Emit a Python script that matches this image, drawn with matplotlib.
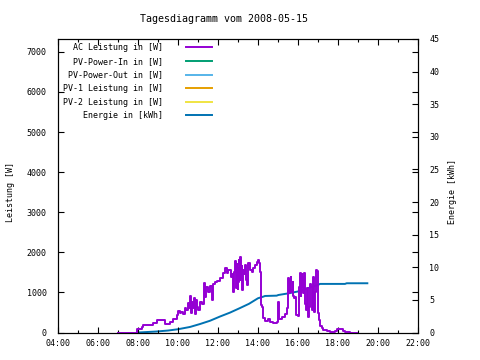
import pandas as pd
import matplotlib
matplotlib.use("Agg")
import matplotlib.pyplot as plt
from matplotlib.ticker import MultipleLocator, FuncFormatter

# AC power readings (time, watt)
acTimes = ["07:00", "07:46", "07:56", "08:11", "08:16", "08:36", "08:46", "08:56", "09:09", "09:21",
           "09:36", "09:46", "09:56", "10:01", "10:05", "10:10", "10:15", "10:20", "10:25", "10:31",
           "10:33", "10:36", "10:39", "10:42", "10:45", "10:48", "10:51", "10:54", "10:57", "11:00",
           "11:06", "11:12", "11:18", "11:21", "11:25", "11:30", "11:36", "11:42", "11:45", "11:51",
           "11:56", "12:06", "12:16", "12:21", "12:26", "12:31", "12:38", "12:42", "12:46", "12:48",
           "12:51", "12:53", "12:54", "12:56", "12:57", "12:59", "13:00", "13:02", "13:03", "13:05",
           "13:06", "13:08", "13:09", "13:11", "13:12", "13:15", "13:18", "13:21", "13:24", "13:26",
           "13:31", "13:36", "13:41", "13:46", "13:51", "13:56", "14:00", "14:04", "14:06",
           "14:08", "14:11", "14:14", "14:16", "14:21", "14:31", "14:36", "14:46", "14:56", "15:01",
           "15:04", "15:11", "15:21", "15:26", "15:31", "15:33", "15:34", "15:36", "15:38", "15:40",
           "15:41", "15:44", "15:46", "15:48", "15:51", "15:54", "15:59", "16:03", "16:05", "16:06",
           "16:08", "16:09", "16:11", "16:13", "16:16", "16:19", "16:21", "16:23", "16:26", "16:28",
           "16:31", "16:34", "16:36", "16:38", "16:41", "16:44", "16:46", "16:49", "16:52", "16:54",
           "16:58", "17:00", "17:03", "17:06", "17:11", "17:16", "17:26", "17:36", "17:51", "17:56",
           "18:06", "18:16", "18:21", "18:36", "18:56"]
acPower = [0, 0, 80, 145, 185, 185, 245, 310, 310, 205,
           270, 330, 435, 545, 495, 520, 470, 600, 560, 730,
           600, 910, 495, 760, 600, 850, 460, 820, 640, 560,
           770, 700, 1240, 890, 1140, 1000, 1150, 810, 1200, 1265,
           1290, 1350, 1490, 1600, 1475, 1560, 1390, 1450, 1020, 1500,
           1790, 1150, 1100, 1700, 1600, 1080, 1250, 1800, 1700, 1300,
           1890, 1400, 1350, 1650, 1060, 1560, 1450, 1680, 1300, 1185,
           1725, 1560, 1515, 1600, 1680, 1765, 1810, 1725, 1515,
           685, 645, 560, 355, 295, 330, 270, 245, 255, 750,
           330, 380, 460, 600, 1350, 1100, 975, 1300, 1375, 1000,
           1060, 1265, 900, 850, 890, 435, 410, 1140, 1300, 1475,
           900, 1140, 1450, 1390, 975, 1475, 700, 560, 810, 1100,
           395, 645, 1200, 1140, 560, 1300, 1390, 520, 1000, 1560,
           1540, 480, 310, 160, 105, 60, 35, 20, 45, 80,
           80, 35, 5, 0, 0]

# cumulative energy (time, kWh)
energyTimes = ["08:00", "08:55", "09:30", "10:00", "10:36", "11:06", "11:36", "12:06", "12:36", "13:06",
               "13:33", "14:00", "14:16", "14:21", "14:56", "15:01", "15:31", "16:06", "16:36", "17:00",
               "17:06", "18:21", "18:26", "19:28"]
energy = [0.0, 0.15, 0.3, 0.5, 0.85, 1.3, 1.8, 2.45, 3.05, 3.75,
          4.4, 5.25, 5.5, 5.6, 5.65, 5.75, 6.0, 6.35, 6.9, 7.3,
          7.45, 7.45, 7.55, 7.55]

xTicks = [4, 6, 8, 10, 12, 14, 16, 18, 20, 22]
yTicks = [0, 1000, 2000, 3000, 4000, 5000, 6000, 7000]
y2Ticks = [0, 5, 10, 15, 20, 25, 30, 35, 40, 45]


def toHours(times):
    return (pd.to_timedelta([t + ":00" for t in times]) / pd.Timedelta(hours=1)).values


plt.rcParams['font.family'] = ['DejaVu Sans Mono']
plt.rcParams['font.size'] = 6

fig = plt.figure(figsize=(4.8, 3.6), dpi=100)
ax = fig.add_axes([58 / 480, 27.5 / 360, 360 / 480, 293.5 / 360])
ax2 = ax.twinx()

# draw the power axis above the energy axis like gnuplot does
ax.set_zorder(10)
ax.patch.set_visible(False)

ax.plot(toHours(acTimes), acPower, c='#9400d3', lw=1.4, drawstyle='steps-post', label='AC Leistung in [W]')
ax.plot([], [], c='#009e73', lw=1.4, label='PV-Power-In in [W]')
ax.plot([], [], c='#56b4e9', lw=1.4, label='PV-Power-Out in [W]')
ax.plot([], [], c='#e69f00', lw=1.4, label='PV-1 Leistung in [W]')
ax.plot([], [], c='#f0e442', lw=1.4, label='PV-2 Leistung in [W]')
energyLine, = ax2.plot(toHours(energyTimes), energy, c='#0072b2', lw=1.4, label='Energie in [kWh]')

ax.set_xlim(4, 22)
ax.set_ylim(0, 7320)
ax2.set_ylim(0, 45)

ax.set_xticks(xTicks)
ax.xaxis.set_minor_locator(MultipleLocator(1))
ax.xaxis.set_major_formatter(FuncFormatter(lambda v, p: "%02d:00" % int(round(v))))
ax.set_yticks(yTicks)
ax2.set_yticks(y2Ticks)

ax.tick_params(axis='x', which='both', direction='in', top=True, width=0.8, pad=5)
ax.tick_params(axis='x', which='major', length=4)
ax.tick_params(axis='x', which='minor', length=2)
ax.tick_params(axis='y', direction='in', left=True, right=True, labelright=False,
               length=4, width=0.8, pad=8)
ax2.tick_params(axis='y', direction='in', left=False, right=True, length=4, width=0.8, pad=8)

for a in (ax, ax2):
    for s in a.spines.values():
        s.set_linewidth(0.8)

ax.set_ylabel("Leistung [W]")
ax.yaxis.label.set_va('center')
ax.yaxis.set_label_coords(-0.133, 0.48)
ax2.set_ylabel("Energie [kWh]")
ax2.yaxis.label.set_va('center')
ax2.yaxis.set_label_coords(1.097, 0.48)

ax.set_title("Tagesdiagramm vom 2008-05-15", x=0.46, pad=12)

handles, labels = ax.get_legend_handles_labels()
handles.append(energyLine)
labels.append(energyLine.get_label())
ax.legend(handles, labels, loc='upper left', bbox_to_anchor=(0.014, 0.985), frameon=False,
          markerfirst=False, handlelength=3.2, handletextpad=2.7, labelspacing=0.55,
          borderpad=0, borderaxespad=0)

plt.savefig('out.png')
